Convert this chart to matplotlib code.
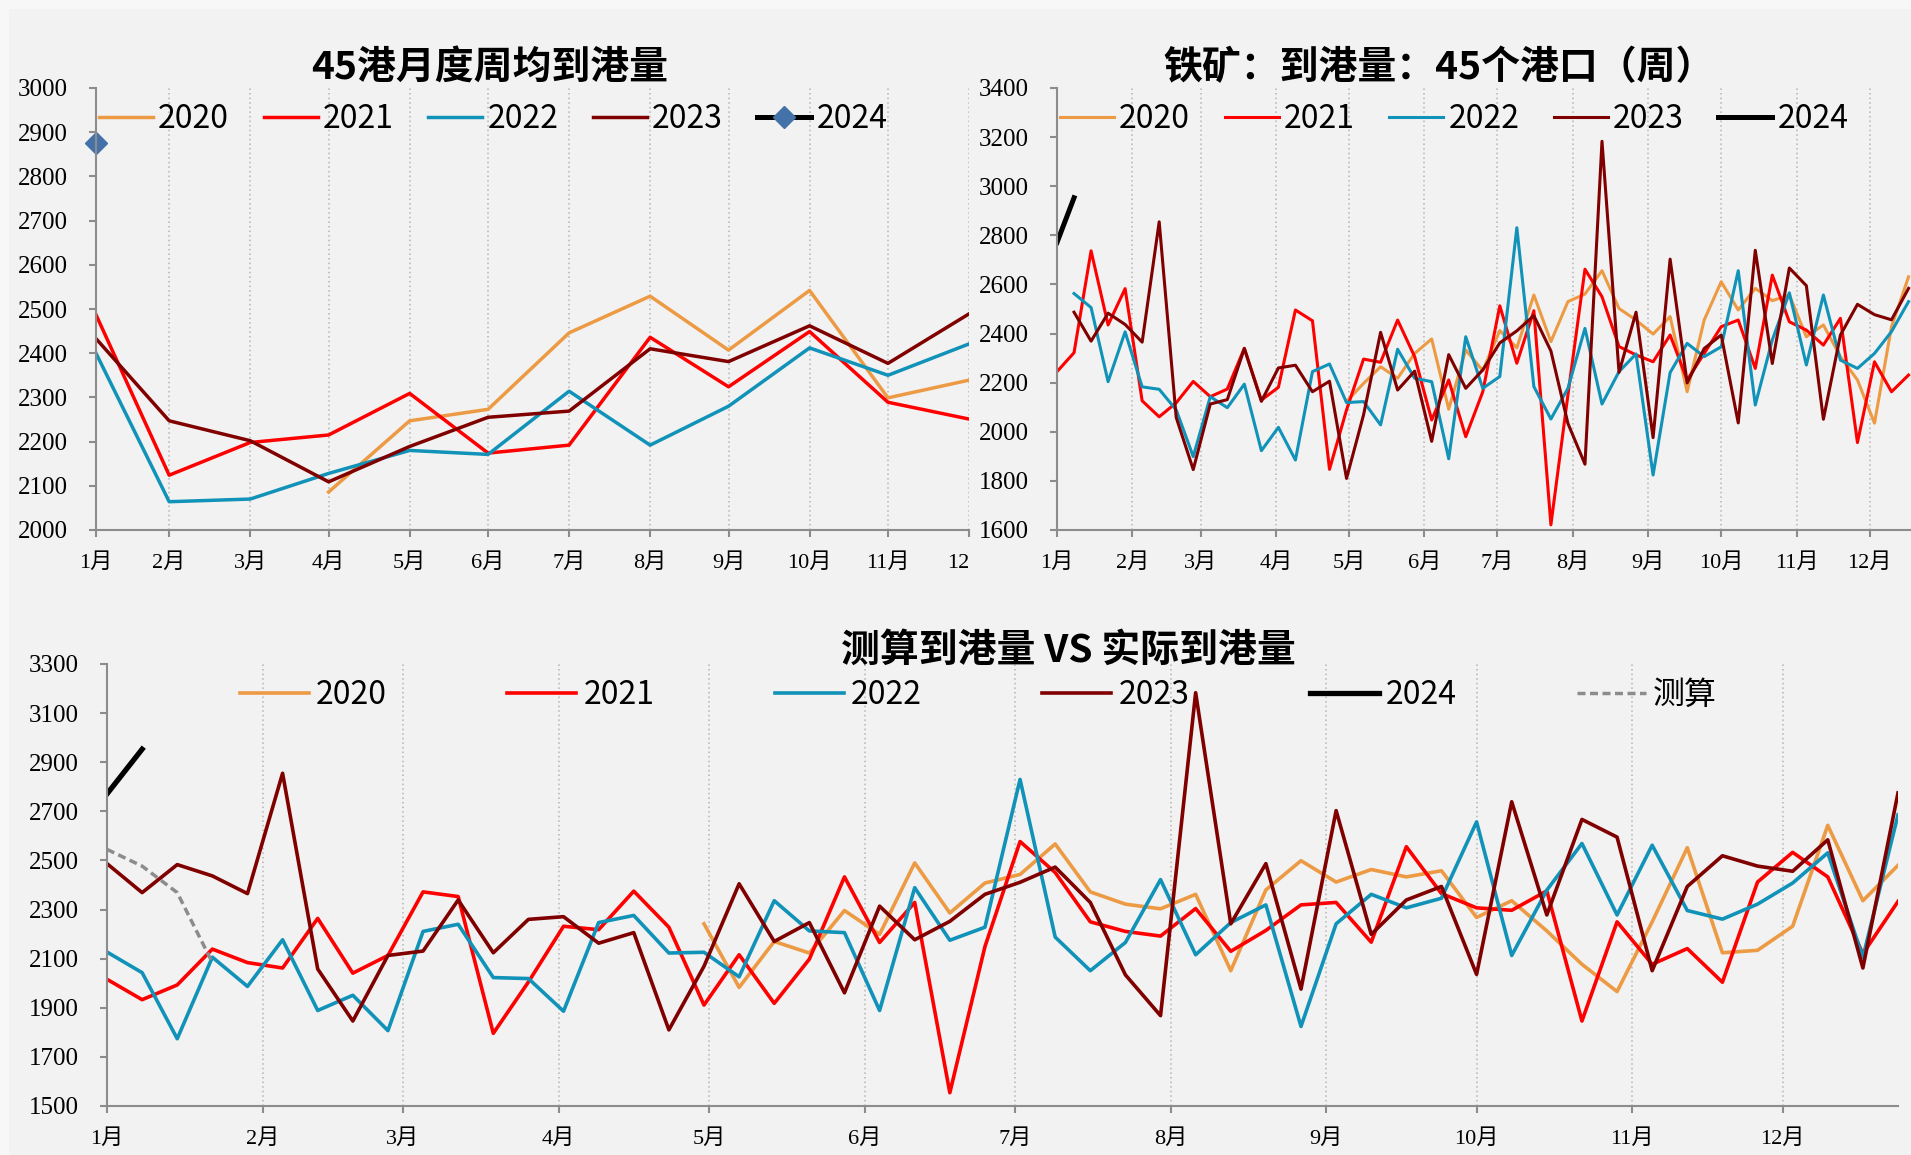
import numpy as np
import pandas as pd
import matplotlib
matplotlib.use('Agg')
import matplotlib.pyplot as plt
from matplotlib.transforms import Bbox, TransformedBbox
from matplotlib.patches import Rectangle

plt.rcParams['font.family'] = ['Noto Sans CJK SC', 'DejaVu Sans']
plt.rcParams['axes.unicode_minus'] = False

# ---------------- 数据 ----------------
# 45港月度周均到港量（月末对齐）
month_2020 = [np.nan, np.nan, np.nan, 2086, 2247, 2273, 2446, 2529, 2407, 2542, 2299, 2339]
month_2021 = [2487, 2124, 2198, 2215, 2309, 2174, 2192, 2436, 2324, 2449, 2289, 2251]
month_2022 = [2400, 2064, 2070, 2128, 2180, 2171, 2314, 2192, 2280, 2412, 2350, 2421]
month_2023 = [2433, 2247, 2202, 2109, 2189, 2255, 2269, 2410, 2381, 2462, 2377, 2489]
month_2024 = [2875]

# 铁矿：到港量：45个港口（周），右上图
week_2020_tr = [2123, 2197, 2265, 2218, 2319, 2378, 2092, 2333, 2249, 2412, 2342, 2557,
                2367, 2530, 2561, 2656, 2502, 2455, 2398, 2469, 2163, 2455, 2611, 2496,
                2584, 2534, 2557, 2387, 2435, 2306, 2211, 2035, 2428, 2631]      # 第17周起
week_2021_tr = [2245, 2322, 2737, 2435, 2583, 2126, 2061, 2118, 2205, 2143, 2174, 2340,
                2129, 2181, 2496, 2452, 1847, 2089, 2296, 2283, 2455, 2306, 2048, 2211,
                1980, 2163, 2513, 2279, 2493, 1621, 2150, 2662, 2550, 2347, 2313, 2285,
                2394, 2211, 2319, 2428, 2455, 2258, 2638, 2448, 2414, 2353, 2462, 1956,
                2285, 2163, 2231]                                                  # 第0周起
week_2022_tr = [2563, 2506, 2204, 2407, 2183, 2173, 2089, 1899, 2143, 2098, 2194, 1923,
                2018, 1885, 2245, 2276, 2119, 2123, 2028, 2336, 2218, 2204, 1890, 2387,
                2177, 2225, 2831, 2184, 2052, 2177, 2421, 2113, 2245, 2317, 1824, 2241,
                2360, 2306, 2346, 2656, 2109, 2374, 2566, 2272, 2557, 2292, 2258, 2319,
                2408, 2530]                                                        # 第1周起

# 测算到港量 VS 实际到港量，下图（按周序号）
week_2020 = [2242, 1983, 2170, 2123, 2296, 2199, 2490, 2286, 2408, 2443, 2567, 2372,
             2322, 2303, 2362, 2051, 2380, 2499, 2412, 2463, 2433, 2458, 2268, 2336,
             2213, 2077, 1966, 2250, 2552, 2124, 2134, 2232, 2643, 2336, 2480]     # 第17周起
week_2021 = [2016, 1933, 1993, 2139, 2084, 2062, 2264, 2041, 2113, 2372, 2353, 1796,
             2005, 2232, 2218, 2375, 2228, 1911, 2116, 1918, 2098, 2433, 2166, 2329,
             1554, 2149, 2577, 2451, 2250, 2211, 2192, 2304, 2130, 2215, 2319, 2329,
             2167, 2556, 2365, 2307, 2297, 2376, 1846, 2250, 2077, 2141, 2004, 2412,
             2533, 2433, 2120, 2333]
week_2022 = [2127, 2043, 1774, 2106, 1987, 2177, 1889, 1951, 1807, 2211, 2240, 2023,
             2019, 1886, 2247, 2276, 2123, 2126, 2026, 2336, 2213, 2206, 1889, 2389,
             2175, 2228, 2830, 2188, 2051, 2166, 2422, 2116, 2247, 2319, 1824, 2242,
             2362, 2307, 2346, 2657, 2113, 2379, 2569, 2278, 2562, 2296, 2261, 2322,
             2408, 2531, 2105, 2686]
# 2023、2024 两张周度图共用
week_2023 = [2487, 2369, 2483, 2437, 2365, 2855, 2058, 1846, 2113, 2131, 2339, 2124,
             2260, 2271, 2163, 2206, 1810, 2069, 2405, 2170, 2247, 1961, 2314, 2177,
             2252, 2362, 2411, 2473, 2329, 2034, 1868, 3183, 2242, 2487, 1976, 2703,
             2199, 2339, 2394, 2036, 2739, 2278, 2667, 2595, 2051, 2394, 2519, 2477,
             2456, 2584, 2062, 2775]
week_2024 = [2771, 2953]
week_est = [2545, 2477, 2369, 2084]   # 测算

# ---------------- 样式 ----------------
c2020, c2021, c2022, c2023, c2024 = '#ED9A44', '#FF0000', '#1192B8', '#800000', '#000000'
c_diamond = '#4472A8'
c_est = '#8C8C8C'
axis_grey = '#8C8C8C'
tick_fonts = ['Liberation Serif', 'Noto Sans CJK SC']
legend_prop = {'family': ['Noto Sans CJK SC', 'DejaVu Sans'], 'size': 23}

W, H = 1911, 1155
fig = plt.figure(figsize=(W / 100, H / 100), dpi=100)
fig.patch.set_facecolor('#F7F7F7')
fig.add_artist(Rectangle((9 / W, 0), 1, 1 - 9 / H, transform=fig.transFigure,
                         facecolor='#F2F2F2', edgecolor='none', zorder=0))


def px_rect(left, top, right, bottom):
    return [left / W, 1 - bottom / H, (right - left) / W, (bottom - top) / H]


def style_axis(ax, ymin, ymax, ystep):
    ax.set_facecolor('none')
    for s in ['top', 'right']:
        ax.spines[s].set_visible(False)
    for s in ['left', 'bottom']:
        ax.spines[s].set_color(axis_grey)
        ax.spines[s].set_linewidth(1.5)
    ax.set_ylim(ymin, ymax)
    ax.set_yticks(np.arange(ymin, ymax + 1, ystep))
    ax.tick_params(axis='y', direction='out', length=5, width=1.5, color=axis_grey,
                   pad=15, labelsize=18, labelfontfamily=tick_fonts)
    ax.tick_params(axis='x', direction='out', length=5, width=1.5, color=axis_grey,
                   pad=12, labelsize=16, labelfontfamily=tick_fonts)
    ax.grid(axis='x', linestyle=(0, (1, 2)), color='#B4B4B4', linewidth=1.1)


def add_legend(ax, handles, x_px, y_px, hlen, tpad, cspace):
    ax.legend(handles=handles, loc='center left',
              bbox_to_anchor=(x_px / W, 1 - y_px / H), bbox_transform=fig.transFigure,
              ncol=len(handles), frameon=False, prop=legend_prop,
              handlelength=hlen, handletextpad=tpad, columnspacing=cspace,
              borderpad=0, borderaxespad=0)


base = pd.Timestamp('2023-01-01')
weeks = base + pd.to_timedelta(7 * np.arange(52), unit='D')
month_starts = pd.date_range('2023-01-01', periods=12, freq='MS')
month_ends = pd.date_range('2023-01-31', periods=12, freq='ME')
month_labels = [f'{m}月' for m in range(1, 13)]

# ---------------- 左上：45港月度周均到港量 ----------------
ax1 = fig.add_axes(px_rect(96, 88, 969, 530))
lw = 2.5
h1 = [ax1.plot(month_ends, month_2020, color=c2020, lw=lw, label='2020')[0],
      ax1.plot(month_ends, month_2021, color=c2021, lw=lw, label='2021')[0],
      ax1.plot(month_ends, month_2022, color=c2022, lw=lw, label='2022')[0],
      ax1.plot(month_ends, month_2023, color=c2023, lw=lw, label='2023')[0],
      ax1.plot(month_ends[:1], month_2024, color=c2024, lw=3.6, marker='D', ms=11,
               mfc=c_diamond, mec=c_diamond, label='2024', clip_on=False)[0]]
ax1.set_xlim(month_ends[0], month_ends[-1])
ax1.set_xticks(month_ends)
ax1.set_xticklabels(month_labels)
style_axis(ax1, 2000, 3000, 100)
crop = TransformedBbox(Bbox([[0, 0], [969 / W, 1]]), fig.transFigure)
for lbl in ax1.get_xticklabels():
    lbl.set_clip_box(crop)
    lbl.set_clip_on(True)
add_legend(ax1, h1, 99, 119, 1.69, 0.16, 1.08)
fig.text(490 / W, 1 - 68 / H, '45港月度周均到港量', ha='center', va='center',
         fontsize=28, fontweight='bold')

# ---------------- 右上：铁矿：到港量：45个港口（周） ----------------
ax2 = fig.add_axes(px_rect(1057, 88, 1057 + 357 * 2.433, 530))
lw = 2.2
h2 = [ax2.plot(weeks[17:51], week_2020_tr, color=c2020, lw=lw, label='2020')[0],
      ax2.plot(weeks[0:51], week_2021_tr, color=c2021, lw=lw, label='2021')[0],
      ax2.plot(weeks[1:51], week_2022_tr, color=c2022, lw=lw, label='2022')[0],
      ax2.plot(weeks[1:51], week_2023[:50], color=c2023, lw=lw, label='2023')[0],
      ax2.plot(weeks[0:2], week_2024, color=c2024, lw=3.6, label='2024')[0]]
ax2.set_xlim(weeks[0], weeks[51])
ax2.set_xticks(month_starts)
ax2.set_xticklabels(month_labels)
style_axis(ax2, 1600, 3400, 200)
add_legend(ax2, h2, 1060, 119, 1.69, 0.16, 1.08)
fig.text(1439 / W, 1 - 68 / H, '铁矿：到港量：45个港口（周）', ha='center', va='center',
         fontsize=28, fontweight='bold')

# ---------------- 下：测算到港量 VS 实际到港量 ----------------
ax3 = fig.add_axes(px_rect(107, 664, 1898, 1106))
lw = 2.6
h3 = [ax3.plot(weeks[17:], week_2020, color=c2020, lw=lw, label='2020')[0],
      ax3.plot(weeks, week_2021, color=c2021, lw=lw, label='2021')[0],
      ax3.plot(weeks, week_2022, color=c2022, lw=lw, label='2022')[0],
      ax3.plot(weeks, week_2023, color=c2023, lw=lw, label='2023')[0],
      ax3.plot(weeks[:2], week_2024, color=c2024, lw=3.8, label='2024')[0],
      ax3.plot(weeks[:4], week_est, color=c_est, lw=2.5, dashes=(2.3, 1.3), label='测算')[0]]
ax3.set_xlim(weeks[0], weeks[51])
ax3.set_xticks(month_starts)
ax3.set_xticklabels(month_labels)
style_axis(ax3, 1500, 3300, 200)
add_legend(ax3, h3, 240, 695, 2.16, 0.22, 3.77)
fig.text(1068 / W, 1 - 650 / H, '测算到港量 VS 实际到港量', ha='center', va='center',
         fontsize=28, fontweight='bold')

fig.savefig('out.png', dpi=100, facecolor=fig.get_facecolor())
